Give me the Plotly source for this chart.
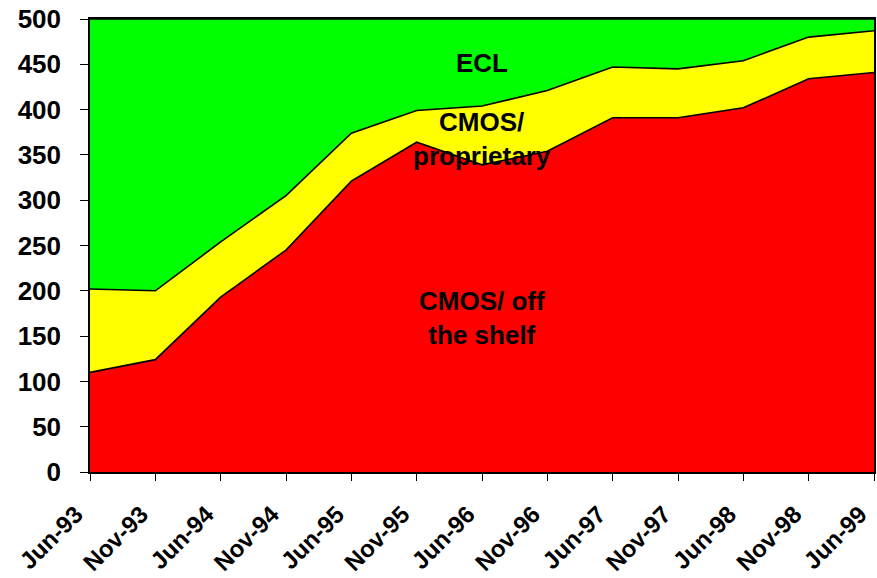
import plotly.graph_objects as go

# TOP500 systems by processor technology, June 1993 - June 1999
periods = ["Jun-93", "Nov-93", "Jun-94", "Nov-94", "Jun-95", "Nov-95", "Jun-96",
           "Nov-96", "Jun-97", "Nov-97", "Jun-98", "Nov-98", "Jun-99"]
cmos_off_shelf = [110, 124, 193, 245, 321, 364, 339, 354, 391, 391, 402, 434, 441]
cmos_proprietary = [92, 76, 61, 60, 53, 35, 65, 67, 56, 54, 52, 46, 46]
ecl = [298, 300, 246, 195, 126, 101, 96, 79, 53, 55, 46, 20, 13]
y_ticks = [0, 50, 100, 150, 200, 250, 300, 350, 400, 450, 500]

series = [
    ("CMOS/ off the shelf", cmos_off_shelf, "#ff0000"),
    ("CMOS/ proprietary", cmos_proprietary, "#ffff00"),
    ("ECL", ecl, "#00ff00"),
]

fig = go.Figure()
for name, vals, color in series:
    fig.add_trace(go.Scatter(
        x=list(range(len(periods))), y=vals, name=name,
        stackgroup="one", mode="lines",
        line=dict(color="black", width=1.6),
        fillcolor=color,
        hoverinfo="x+y+name",
    ))

FAMILY = "Liberation Sans, Arial, sans-serif"
font_main = dict(family=FAMILY, size=26, color="black")
font_x = dict(family=FAMILY, size=24, color="black")

labels = [
    ("<b>ECL</b>", 6.0, 451),
    ("<b>CMOS/</b><br><b>proprietary</b>", 6.0, 368),
    ("<b>CMOS/ off</b><br><b>the shelf</b>", 6.0, 170),
]
for text, x, y in labels:
    fig.add_annotation(x=x, y=y, xref="x", yref="y", text=text, showarrow=False,
                       font=font_main, align="center", xanchor="center", yanchor="middle")

fig.update_layout(
    width=877, height=578,
    margin=dict(l=90, r=3, t=19, b=106),
    paper_bgcolor="white", plot_bgcolor="white",
    showlegend=False,
    font=font_main,
)
fig.update_xaxes(
    range=[-1e-6, len(periods) - 1 + 1e-6],
    tickmode="array", tickvals=list(range(len(periods))),
    ticktext=[f"<b>{p}</b>" for p in periods],
    tickangle=-45, tickfont=font_x, ticklabelstandoff=10, ticklabelshift=-14,
    ticklabeloverflow="allow", automargin=False,
    ticks="outside", ticklen=7, tickcolor="black", tickwidth=1,
    showline=True, linecolor="black", linewidth=1.5, mirror=True,
    showgrid=False, zeroline=False,
)
fig.update_yaxes(
    range=[0, 500],
    tickmode="array", tickvals=y_ticks,
    ticktext=[f"<b>{v}</b>" for v in y_ticks],
    tickfont=font_main, ticklabelstandoff=14,
    ticklabeloverflow="allow", automargin=False,
    ticks="outside", ticklen=8, tickcolor="black", tickwidth=1,
    showline=True, linecolor="black", linewidth=1.5, mirror=True,
    showgrid=False, zeroline=False,
)

fig.write_html("out.html")
